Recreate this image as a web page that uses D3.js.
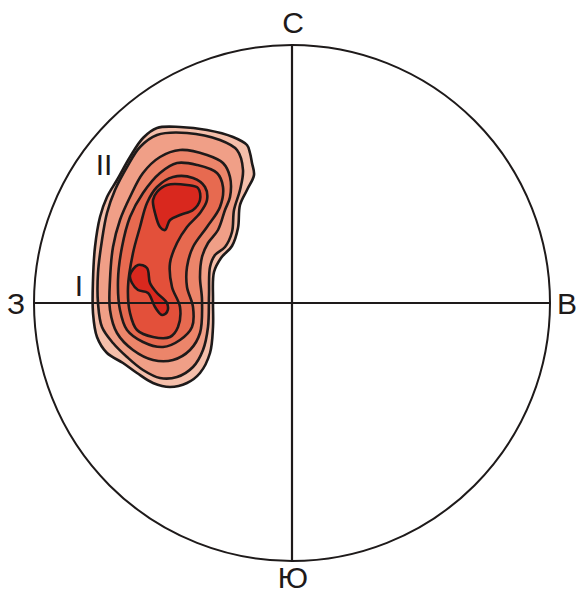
<!DOCTYPE html>
<html>
<head>
<meta charset="utf-8">
<script src="https://cdn.jsdelivr.net/npm/d3@7"></script>
<style>
  body { margin: 0; background: #fff; }
  svg { display: block; }
</style>
</head>
<body>
<svg id="chart"></svg>
<script>
// net units: radius of the net = 258
const NET_R = 258;

// cardinal directions
const directions = [
  { label: "С", x: 0, y: 1 },
  { label: "В", x: 1, y: 0 },
  { label: "Ю", x: 0, y: -1 },
  { label: "З", x: -1, y: 0 }
];

// density contours, outermost first (net units)
const contour1 = [[-135,175],[-112,176],[-85,173],[-59,166],[-45,158],[-42,150],[-40,140],[-38,128],[-45,113],[-52,98],[-54,75],[-60,57],[-71,45],[-78,31],[-79,3],[-79,-24],[-82,-50],[-92,-70],[-105,-80],[-122,-84],[-139,-80],[-155,-70],[-169,-60],[-185,-50],[-195,-34],[-199,-10],[-199,23],[-197,56],[-192,86],[-185,106],[-175,123],[-162,146],[-149,165]];
const contour2 = [[-135,168],[-105,170],[-72,163],[-55,153],[-49,133],[-52,113],[-58,93],[-60,71],[-67,56],[-77,48],[-82,36],[-83,8],[-84,-24],[-89,-47],[-99,-64],[-115,-74],[-132,-75],[-149,-67],[-165,-54],[-179,-40],[-190,-24],[-194,0],[-194,30],[-190,63],[-185,90],[-177,113],[-165,136],[-152,156]];
const contour3 = [[-132,146],[-112,153],[-85,148],[-69,140],[-62,126],[-62,106],[-67,93],[-74,73],[-84,60],[-90,46],[-92,26],[-90,3],[-92,-30],[-102,-47],[-119,-57],[-139,-57],[-159,-47],[-175,-30],[-182,-7],[-182,23],[-179,56],[-172,83],[-162,106],[-149,130]];
const contour4 = [[-132,130],[-115,140],[-95,138],[-75,130],[-69,116],[-72,96],[-85,76],[-99,56],[-105,36],[-105,16],[-99,-4],[-100,-24],[-112,-37],[-129,-44],[-149,-39],[-165,-27],[-172,-7],[-174,23],[-170,56],[-162,86],[-149,110]];
const contour5 = [[-135,116],[-119,126],[-99,125],[-87,116],[-85,103],[-92,90],[-105,76],[-115,60],[-122,40],[-120,16],[-112,-4],[-114,-24],[-122,-34],[-139,-34],[-155,-27],[-162,-10],[-164,16],[-159,50],[-152,76],[-145,100]];
const peak1 = [[-139,103],[-135,111],[-125,118],[-105,118],[-94,115],[-92,103],[-99,93],[-112,88],[-122,83],[-127,73],[-132,76],[-137,90]];
const peak2 = [[-162,28],[-154,38],[-145,35],[-142,20],[-135,10],[-125,0],[-125,-9],[-130,-12],[-137,-4],[-144,10],[-154,13],[-160,20]];

const contours = [contour1, contour2, contour3, contour4, contour5, peak1, peak2];
const levels = [0, 1, 2, 3, 4, 5, 5];
const levelColors = ["#f5bfab", "#f09f87", "#ec856a", "#e76a50", "#e3503a", "#d9281e"];

// contour labels
const contourLabels = [
  { text: "II", x: -188, y: 128 },
  { text: "I", x: -213, y: 7 }
];

const width = 576;
const height = 595;
const cx = 292, cy = 303;

const svg = d3.select("#chart").attr("width", width).attr("height", height);

const x = d3.scaleLinear().domain([-NET_R, NET_R]).range([cx - NET_R, cx + NET_R]);
const y = d3.scaleLinear().domain([-NET_R, NET_R]).range([cy + NET_R, cy - NET_R]);

const line = d3.line()
  .x(d => x(d[0]))
  .y(d => y(d[1]))
  .curve(d3.curveCatmullRomClosed.alpha(0.5));

svg.append("g")
  .selectAll("path")
  .data(contours)
  .join("path")
  .attr("d", line)
  .attr("fill", (d, i) => levelColors[levels[i]])
  .attr("stroke", "#1e1a1a")
  .attr("stroke-width", 2.6)
  .attr("stroke-linejoin", "round");

// net circle and cross
svg.append("circle")
  .attr("cx", x(0))
  .attr("cy", y(0))
  .attr("r", x(NET_R) - x(0))
  .attr("fill", "none")
  .attr("stroke", "#1e1a1a")
  .attr("stroke-width", 2);

svg.append("line")
  .attr("x1", x(-NET_R)).attr("x2", x(NET_R))
  .attr("y1", y(0)).attr("y2", y(0))
  .attr("stroke", "#1e1a1a").attr("stroke-width", 2.2);

svg.append("line")
  .attr("x1", x(0)).attr("x2", x(0))
  .attr("y1", y(NET_R)).attr("y2", y(-NET_R))
  .attr("stroke", "#1e1a1a").attr("stroke-width", 2.2);

// direction letters just outside the circle: pixel nudges per letter
const labelOffset = {
  "С": [1, -12],
  "В": [17, 11],
  "Ю": [1, 27],
  "З": [-18, 11]
};
svg.append("g")
  .selectAll("text")
  .data(directions)
  .join("text")
  .attr("x", d => x(d.x * NET_R) + labelOffset[d.label][0])
  .attr("y", d => y(d.y * NET_R) + labelOffset[d.label][1])
  .attr("text-anchor", "middle")
  .attr("font-family", "Liberation Sans, Arial, sans-serif")
  .attr("font-size", 30)
  .attr("fill", "#1e1a1a")
  .text(d => d.label);

svg.append("g")
  .selectAll("text")
  .data(contourLabels)
  .join("text")
  .attr("x", d => x(d.x))
  .attr("y", d => y(d.y))
  .attr("text-anchor", "middle")
  .attr("font-family", "Liberation Sans, Arial, sans-serif")
  .attr("font-size", 30)
  .attr("fill", "#1e1a1a")
  .text(d => d.text);
</script>
</body>
</html>
